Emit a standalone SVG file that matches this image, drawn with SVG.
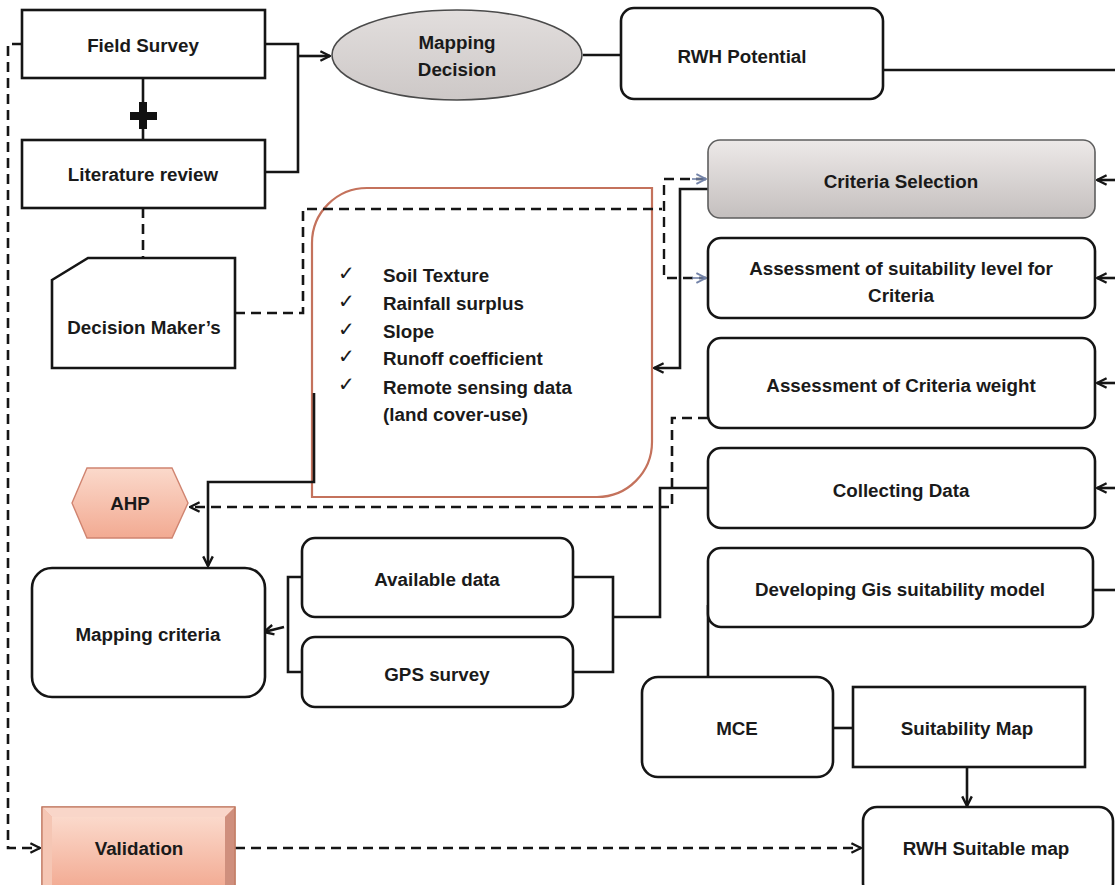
<svg xmlns="http://www.w3.org/2000/svg" width="1115" height="885" viewBox="0 0 1115 885">
<defs>
<style>
.box{fill:#fff;stroke:#151515;stroke-width:2.6}
.t{font-family:"Liberation Sans",Arial,sans-serif;font-weight:bold;font-size:18.8px;fill:#1a1a1a;text-anchor:middle;dominant-baseline:central}
.tl{font-family:"Liberation Sans",Arial,sans-serif;font-weight:bold;font-size:18.8px;fill:#1a1a1a;dominant-baseline:central}
.ck{font-family:"DejaVu Sans",sans-serif;font-size:20px;fill:#1a1a1a;dominant-baseline:central}
.ln{fill:none;stroke:#151515;stroke-width:2.6}
.dl{fill:none;stroke:#151515;stroke-width:2.6;stroke-dasharray:10,6}
</style>
<marker id="arr" viewBox="0 0 10 10" refX="9" refY="5" markerWidth="12" markerHeight="12" orient="auto" markerUnits="userSpaceOnUse">
<path d="M1,1 L9,5 L1,9" fill="none" stroke="#151515" stroke-width="2"/>
</marker>
<marker id="arrb" viewBox="0 0 10 10" refX="9" refY="5" markerWidth="12" markerHeight="12" orient="auto" markerUnits="userSpaceOnUse">
<path d="M1,1 L9,5 L1,9" fill="none" stroke="#7282a8" stroke-width="1.6"/>
</marker>
<linearGradient id="gray" x1="0" y1="0" x2="0" y2="1">
<stop offset="0" stop-color="#ede9e8"/><stop offset="1" stop-color="#c4bfbe"/>
</linearGradient>
<linearGradient id="ell" x1="0" y1="0" x2="0" y2="1">
<stop offset="0" stop-color="#e2dedd"/><stop offset="1" stop-color="#cdc8c7"/>
</linearGradient>
<linearGradient id="pink" x1="0" y1="0" x2="0" y2="1">
<stop offset="0" stop-color="#fbd9cb"/><stop offset="1" stop-color="#f2aa92"/>
</linearGradient>
</defs>

<g id="criteria-list">
<path d="M312,243 A55,55 0 0 1 367,188 H652 V442 A55,55 0 0 1 597,497 H312 Z" fill="#fff" stroke="#c4725c" stroke-width="2.2"/>
<text class="ck" x="338" y="273">✓</text>
<text class="ck" x="338" y="301">✓</text>
<text class="ck" x="338" y="329">✓</text>
<text class="ck" x="338" y="356">✓</text>
<text class="ck" x="338" y="384">✓</text>
<text class="tl" x="383" y="275">Soil Texture</text>
<text class="tl" x="383" y="303">Rainfall surplus</text>
<text class="tl" x="383" y="331">Slope</text>
<text class="tl" x="383" y="358">Runoff coefficient</text>
<text class="tl" x="383" y="387">Remote sensing data</text>
<text class="tl" x="383" y="414">(land cover-use)</text>
</g>

<g id="connectors">
<path class="dl" d="M22,44 H8 V848 H40" marker-end="url(#arr)"/>
<path class="ln" d="M265,44 H298 V172 H265"/>
<path class="ln" d="M298,56 H330" marker-end="url(#arr)"/>
<path class="ln" d="M583,55 H621"/>
<path class="ln" d="M883,70 H1115"/>
<path class="ln" d="M143,78 V140"/>
<path class="dl" d="M143,208 V258"/>
<path class="dl" d="M235,313 H303 V209 H662"/>
<path fill="none" stroke="#151515" stroke-width="2.4" stroke-dasharray="10,6" d="M706,179 H664 V278 H706"/>
<path fill="none" stroke="#7282a8" stroke-width="1.6" d="M692,179 H706" marker-end="url(#arrb)"/>
<path fill="none" stroke="#7282a8" stroke-width="1.6" d="M692,278 H706" marker-end="url(#arrb)"/>
<path class="ln" d="M708,189 H680 V368 H654" marker-end="url(#arr)"/>
<path class="ln" d="M1115,180 H1097" marker-end="url(#arr)"/>
<path class="ln" d="M1115,278 H1097" marker-end="url(#arr)"/>
<path class="ln" d="M1115,383 H1097" marker-end="url(#arr)"/>
<path class="ln" d="M1115,488 H1097" marker-end="url(#arr)"/>
<path class="ln" d="M1093,590 H1115"/>
<path class="ln" d="M314,393 V482 H208 V566" marker-end="url(#arr)"/>
<path class="dl" d="M708,418 H672 V507 H190" marker-end="url(#arr)"/>
<path class="ln" d="M708,488 H660 V617 H613"/>
<path class="ln" d="M573,577 H613 V672 H573"/>
<path class="ln" d="M313,577 H288 V672 H313"/>
<path class="ln" d="M284,627 L264,632" marker-end="url(#arr)"/>
<path class="ln" d="M708,605 V677"/>
<path class="ln" d="M833,728 H853"/>
<path class="ln" d="M967,767 V806" marker-end="url(#arr)"/>
<path class="dl" d="M235,848 H861" marker-end="url(#arr)"/>
<path d="M139,102 h8 v10 h10 v8 h-10 v9 h-8 v-9 h-9 v-8 h9 z" fill="#111"/>
</g>

<g id="field-survey">
<rect class="box" x="22" y="10" width="243" height="68"/>
<text class="t" x="143" y="45">Field Survey</text>
</g>
<g id="literature-review">
<rect class="box" x="22" y="140" width="243" height="68"/>
<text class="t" x="143" y="174">Literature review</text>
</g>
<g id="mapping-decision">
<ellipse cx="457" cy="55" rx="125" ry="45" fill="url(#ell)" stroke="#4a4a4a" stroke-width="1.6"/>
<text class="t" x="457" y="42">Mapping</text>
<text class="t" x="457" y="69">Decision</text>
</g>
<g id="rwh-potential">
<rect class="box" x="621" y="8" width="262" height="91" rx="13"/>
<text class="t" x="742" y="56">RWH Potential</text>
</g>
<g id="decision-makers">
<path class="box" d="M52,280 L88,258 H235 V368 H52 Z"/>
<text class="t" x="144" y="327">Decision Maker’s</text>
</g>
<g id="criteria-selection">
<rect x="708" y="140" width="387" height="78" rx="12" fill="url(#gray)" stroke="#5e5e5e" stroke-width="1.6"/>
<text class="t" x="901" y="181">Criteria Selection</text>
</g>
<g id="assessment-suitability">
<rect class="box" x="708" y="238" width="387" height="80" rx="13"/>
<text class="t" x="901" y="268">Assessment of suitability level for</text>
<text class="t" x="901" y="295">Criteria</text>
</g>
<g id="assessment-weight">
<rect class="box" x="708" y="338" width="387" height="90" rx="13"/>
<text class="t" x="901" y="385">Assessment of Criteria weight</text>
</g>
<g id="collecting-data">
<rect class="box" x="708" y="448" width="387" height="80" rx="13"/>
<text class="t" x="901" y="490">Collecting Data</text>
</g>
<g id="developing-gis">
<rect class="box" x="708" y="548" width="385" height="79" rx="13"/>
<text class="t" x="900" y="589">Developing Gis suitability model</text>
</g>
<g id="ahp">
<path d="M72,503 L87,468 H172 L188,503 L172,538 H87 Z" fill="url(#pink)" stroke="#d08470" stroke-width="1.4"/>
<text class="t" x="130" y="503">AHP</text>
</g>
<g id="mapping-criteria">
<rect class="box" x="32" y="568" width="233" height="129" rx="20"/>
<text class="t" x="148" y="634">Mapping criteria</text>
</g>
<g id="available-data">
<rect class="box" x="302" y="538" width="271" height="79" rx="13"/>
<text class="t" x="437" y="579">Available data</text>
</g>
<g id="gps-survey">
<rect class="box" x="302" y="637" width="271" height="70" rx="13"/>
<text class="t" x="437" y="674">GPS survey</text>
</g>
<g id="mce">
<rect class="box" x="642" y="677" width="191" height="100" rx="16"/>
<text class="t" x="737" y="728">MCE</text>
</g>
<g id="suitability-map">
<rect class="box" x="853" y="687" width="232" height="80"/>
<text class="t" x="967" y="728">Suitability Map</text>
</g>
<g id="rwh-suitable-map">
<rect class="box" x="863" y="807" width="250" height="90" rx="14"/>
<text class="t" x="986" y="848">RWH Suitable map</text>
</g>
<g id="validation">
<rect x="42" y="807" width="193" height="82" fill="#f0b09a" stroke="#c07860" stroke-width="1.2"/>
<path d="M42,807 H235 L225,817 H52 Z" fill="#f9d6c9"/>
<path d="M42,807 L52,817 V889 H42 Z" fill="#f5c6b4"/>
<path d="M235,807 L225,817 V889 H235 Z" fill="#cf8f7d"/>
<rect x="52" y="817" width="173" height="72" fill="url(#pink)"/>
<rect x="42" y="807" width="193" height="82" fill="none" stroke="#c07860" stroke-width="1.2"/>
<text class="t" x="139" y="848">Validation</text>
</g>
</svg>
